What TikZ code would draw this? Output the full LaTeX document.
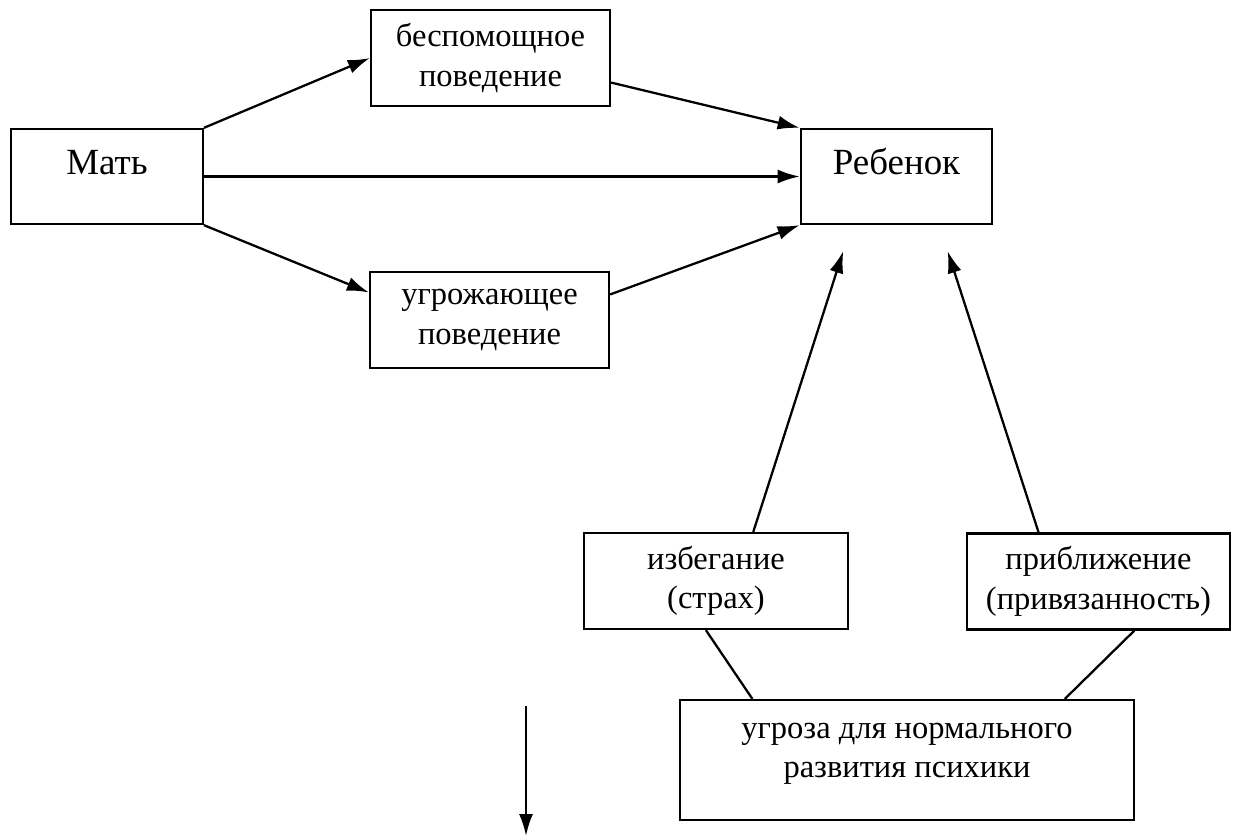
\documentclass[tikz,border=0pt]{standalone}
\usepackage{fontspec}
\setmainfont{Liberation Serif}
\usepackage{tikz}
\usetikzlibrary{arrows.meta}
\usetikzlibrary{calc}
\tikzset{>={Latex[length=4.4mm,width=2.8mm]}}
\tikzset{
  bigbox/.style={draw, line width=1.3pt, inner sep=0pt, minimum width=3.83cm,
    text height=0.9cm, text depth=1.0cm, font=\fontsize{21}{25}\selectfont},
  smallbox/.style={draw, line width=1.3pt, align=center, inner sep=0pt,
    minimum height=1.92cm, font=\fontsize{18.5}{22.5}\selectfont},
  link/.style={line width=1.3pt}
}

\begin{document}
\begin{tikzpicture}[x=0.02cm, y=-0.02cm]
      \useasboundingbox (0,0) rectangle (1236,839);
      \node[bigbox] (mat) at (107,176.5) {Мать};
      \node[bigbox] (reb) at (896.5,176.5) {Ребенок};
      \node[smallbox, minimum width=4.78cm] (bes) at (490.5,58) {беспомощное\\поведение};
      \node[smallbox, minimum width=4.78cm] (ugr) at (489.5,320) {угрожающее\\поведение};
      \node[smallbox, minimum width=5.28cm] (izb) at (716,581) {избегание\\(страх)};
      \node[smallbox, minimum width=5.26cm] (pri) at (1098.5,581.5) {приближение\\(привязанность)};
      \node[smallbox, minimum width=9.08cm, minimum height=2.4cm] (ugz) at (907,760)
        {угроза для нормального\\развития психики\\[-0.4cm]\mbox{}};
      \draw[link,->] (mat.north east) -- (bes.west);
      \draw[link,->] ($(bes.north east)!0.75!(bes.south east)$) -- (reb.north west);
      \draw[link,->] (mat.east) -- (reb.west);
      \draw[link,->] (mat.south east) -- ($(ugr.north west)!0.22!(ugr.south west)$);
      \draw[link,->] ($(ugr.north east)!0.24!(ugr.south east)$) -- (reb.south west);
      \draw[link,->] ($(izb.north west)!0.64!(izb.north east)$) -- ($(reb.south west)!0.225!(reb.south east)+(0,26)$);
      \draw[link,->] ($(pri.north west)!0.274!(pri.north east)$) -- ($(reb.south west)!0.764!(reb.south east)+(0,26)$);
      \draw[link] ($(izb.south west)!0.462!(izb.south east)$) -- ($(ugz.north west)!0.161!(ugz.north east)$);
      \draw[link] ($(pri.south west)!0.635!(pri.south east)$) -- ($(ugz.north west)!0.846!(ugz.north east)$);
      \coordinate (free1) at (526,706);
      \coordinate (free2) at (526,836);
      \draw[link,->] (free1) -- (free2);
\end{tikzpicture}
\end{document}
